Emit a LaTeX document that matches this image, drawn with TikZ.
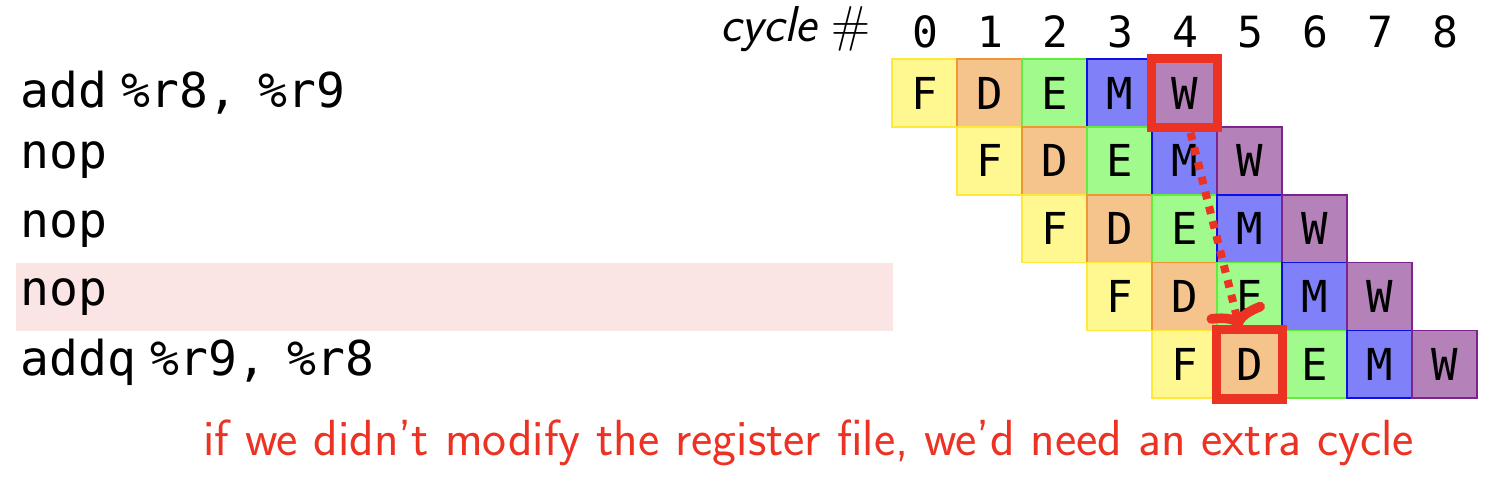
\documentclass[tikz,border=0pt]{standalone}
\usepackage{fontspec}
\setmonofont{DejaVu Sans Mono}
\usetikzlibrary{arrows.meta}
\definecolor{fF}{RGB}{255,247,143}\definecolor{bF}{RGB}{255,232,60}
\definecolor{fD}{RGB}{245,195,140}\definecolor{bD}{RGB}{238,150,50}
\definecolor{fE}{RGB}{160,251,140}\definecolor{bE}{RGB}{100,235,60}
\definecolor{fM}{RGB}{128,128,248}\definecolor{bM}{RGB}{15,15,225}
\definecolor{fW}{RGB}{180,130,185}\definecolor{bW}{RGB}{125,35,140}
\definecolor{hlred}{RGB}{235,50,35}
\definecolor{hlpink}{RGB}{250,228,228}
\tikzset{
  cell/.style={rectangle, inner sep=0pt, minimum width=32.5pt, minimum height=33.9pt,
    line width=0.8pt, font=\fontsize{22}{26}\selectfont\ttfamily},
  stF/.style={cell, fill=fF, draw=bF},
  stD/.style={cell, fill=fD, draw=bD},
  stE/.style={cell, fill=fE, draw=bE},
  stM/.style={cell, fill=fM, draw=bM},
  stW/.style={cell, fill=fW, draw=bW},
  instr/.style={anchor=base west, inner sep=0pt, font=\fontsize{24}{28}\selectfont},
  cyc/.style={anchor=base, inner sep=0pt, font=\fontsize{21.5}{26}\selectfont\ttfamily},
  redbox/.style={draw=hlred, line width=4.6pt},
  dep/.style={draw=hlred, line width=4pt, dash pattern=on 3.8pt off 3.8pt,
    -{Computer Modern Rightarrow[width=30pt, length=10pt, line width=4.8pt, round]}},
  note/.style={anchor=base west, inner sep=0pt, text=hlred, font=\fontsize{25.4}{30}\selectfont\sffamily},
}
\begin{document}
\begin{tikzpicture}[x=0.5pt, y=-0.5pt]
\useasboundingbox (0,0) rectangle (1496,478);
% highlight band
\fill[hlpink] (16,263) rectangle (893,331);
% header
\node[anchor=base west, inner sep=0pt, font=\fontsize{25.2}{30}\selectfont] (cyclab) at (720,41) {{\sffamily\itshape cycle} {\rmfamily\#}};
\foreach \c in {0,...,8} {
  \node[cyc] (n\c) at ({925+65*\c},47) {\c};
}
% instructions
\node[instr] (i0) at (20,107) {\texttt{add} \texttt{\%r8,}\hspace{0.45em}\texttt{\%r9}};
\node[instr] (i1) at (20,168) {\texttt{nop}};
\node[instr] (i2) at (20,237) {\texttt{nop}};
\node[instr] (i3) at (20,305) {\texttt{nop}};
\node[instr] (i4) at (20,375) {\texttt{addq} \texttt{\%r9,}\hspace{0.45em}\texttt{\%r8}};
% pipeline cells
\foreach \r in {0,...,4} {
  \foreach \s [count=\k from 0] in {F,D,E,M,W} {
    \pgfmathtruncatemacro{\col}{\r+\k}
    \node[st\s] (c\r\col) at ({924.5+65*\col},{93+67.8*\r}) {\s};
  }
}
% red boxes
\draw[redbox] (c04.south west) rectangle (c04.north east);
\draw[redbox] (c45.south west) rectangle (c45.north east);
% dependency arrow
\draw[dep] ([xshift=3pt,yshift=-2.5pt]c04.south) -- ([xshift=-5pt,yshift=1pt]c45.north);
% note
\node[note] (note) at (203,455) {if we didn't modify the register file, we'd need an extra cycle};
\end{tikzpicture}
\end{document}
